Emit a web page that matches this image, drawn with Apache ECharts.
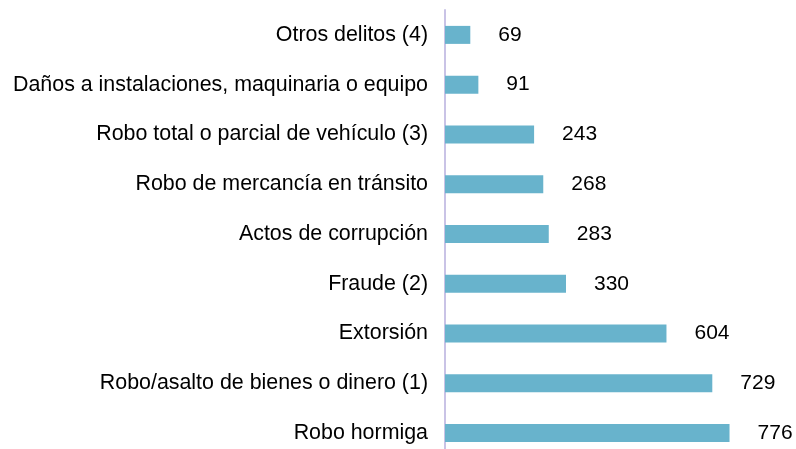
<!DOCTYPE html>
<html>
<head>
<meta charset="utf-8">
<script src="https://cdn.jsdelivr.net/npm/echarts@6/dist/echarts.min.js"></script>
<style>
  html, body { margin: 0; padding: 0; background: #fff; }
  #chart { width: 796px; height: 449px; }
</style>
</head>
<body>
<div id="chart"></div>
<script>
// categories listed bottom to top
const categories = [
  'Robo hormiga',
  'Robo/asalto de bienes o dinero (1)',
  'Extorsión',
  'Fraude (2)',
  'Actos de corrupción',
  'Robo de mercancía en tránsito',
  'Robo total o parcial de vehículo (3)',
  'Daños a instalaciones, maquinaria o equipo',
  'Otros delitos (4)'
]
const values = [776, 729, 604, 330, 283, 268, 243, 91, 69]

const chart = echarts.init(document.getElementById('chart'))
chart.setOption({
  animation: false,
  grid: { left: 445, width: 330, top: 10, height: 448, outerBoundsMode: 'none' },
  xAxis: {
    type: 'value',
    min: 0,
    max: 900,
    show: false
  },
  yAxis: {
    type: 'category',
    data: categories,
    axisLine: { show: true, lineStyle: { color: '#c9c3e6', width: 2 } },
    axisTick: { show: false },
    axisLabel: {
      color: '#000',
      fontSize: 21.4,
      fontFamily: 'Liberation Sans, Arial, sans-serif',
      margin: 17
    }
  },
  series: [{
    type: 'bar',
    data: values,
    barWidth: 18,
    itemStyle: { color: '#68b3cc' },
    label: {
      show: true,
      position: 'right',
      distance: 28,
      color: '#000',
      fontSize: 21,
      fontFamily: 'Liberation Sans, Arial, sans-serif'
    }
  }]
})
</script>
</body>
</html>
